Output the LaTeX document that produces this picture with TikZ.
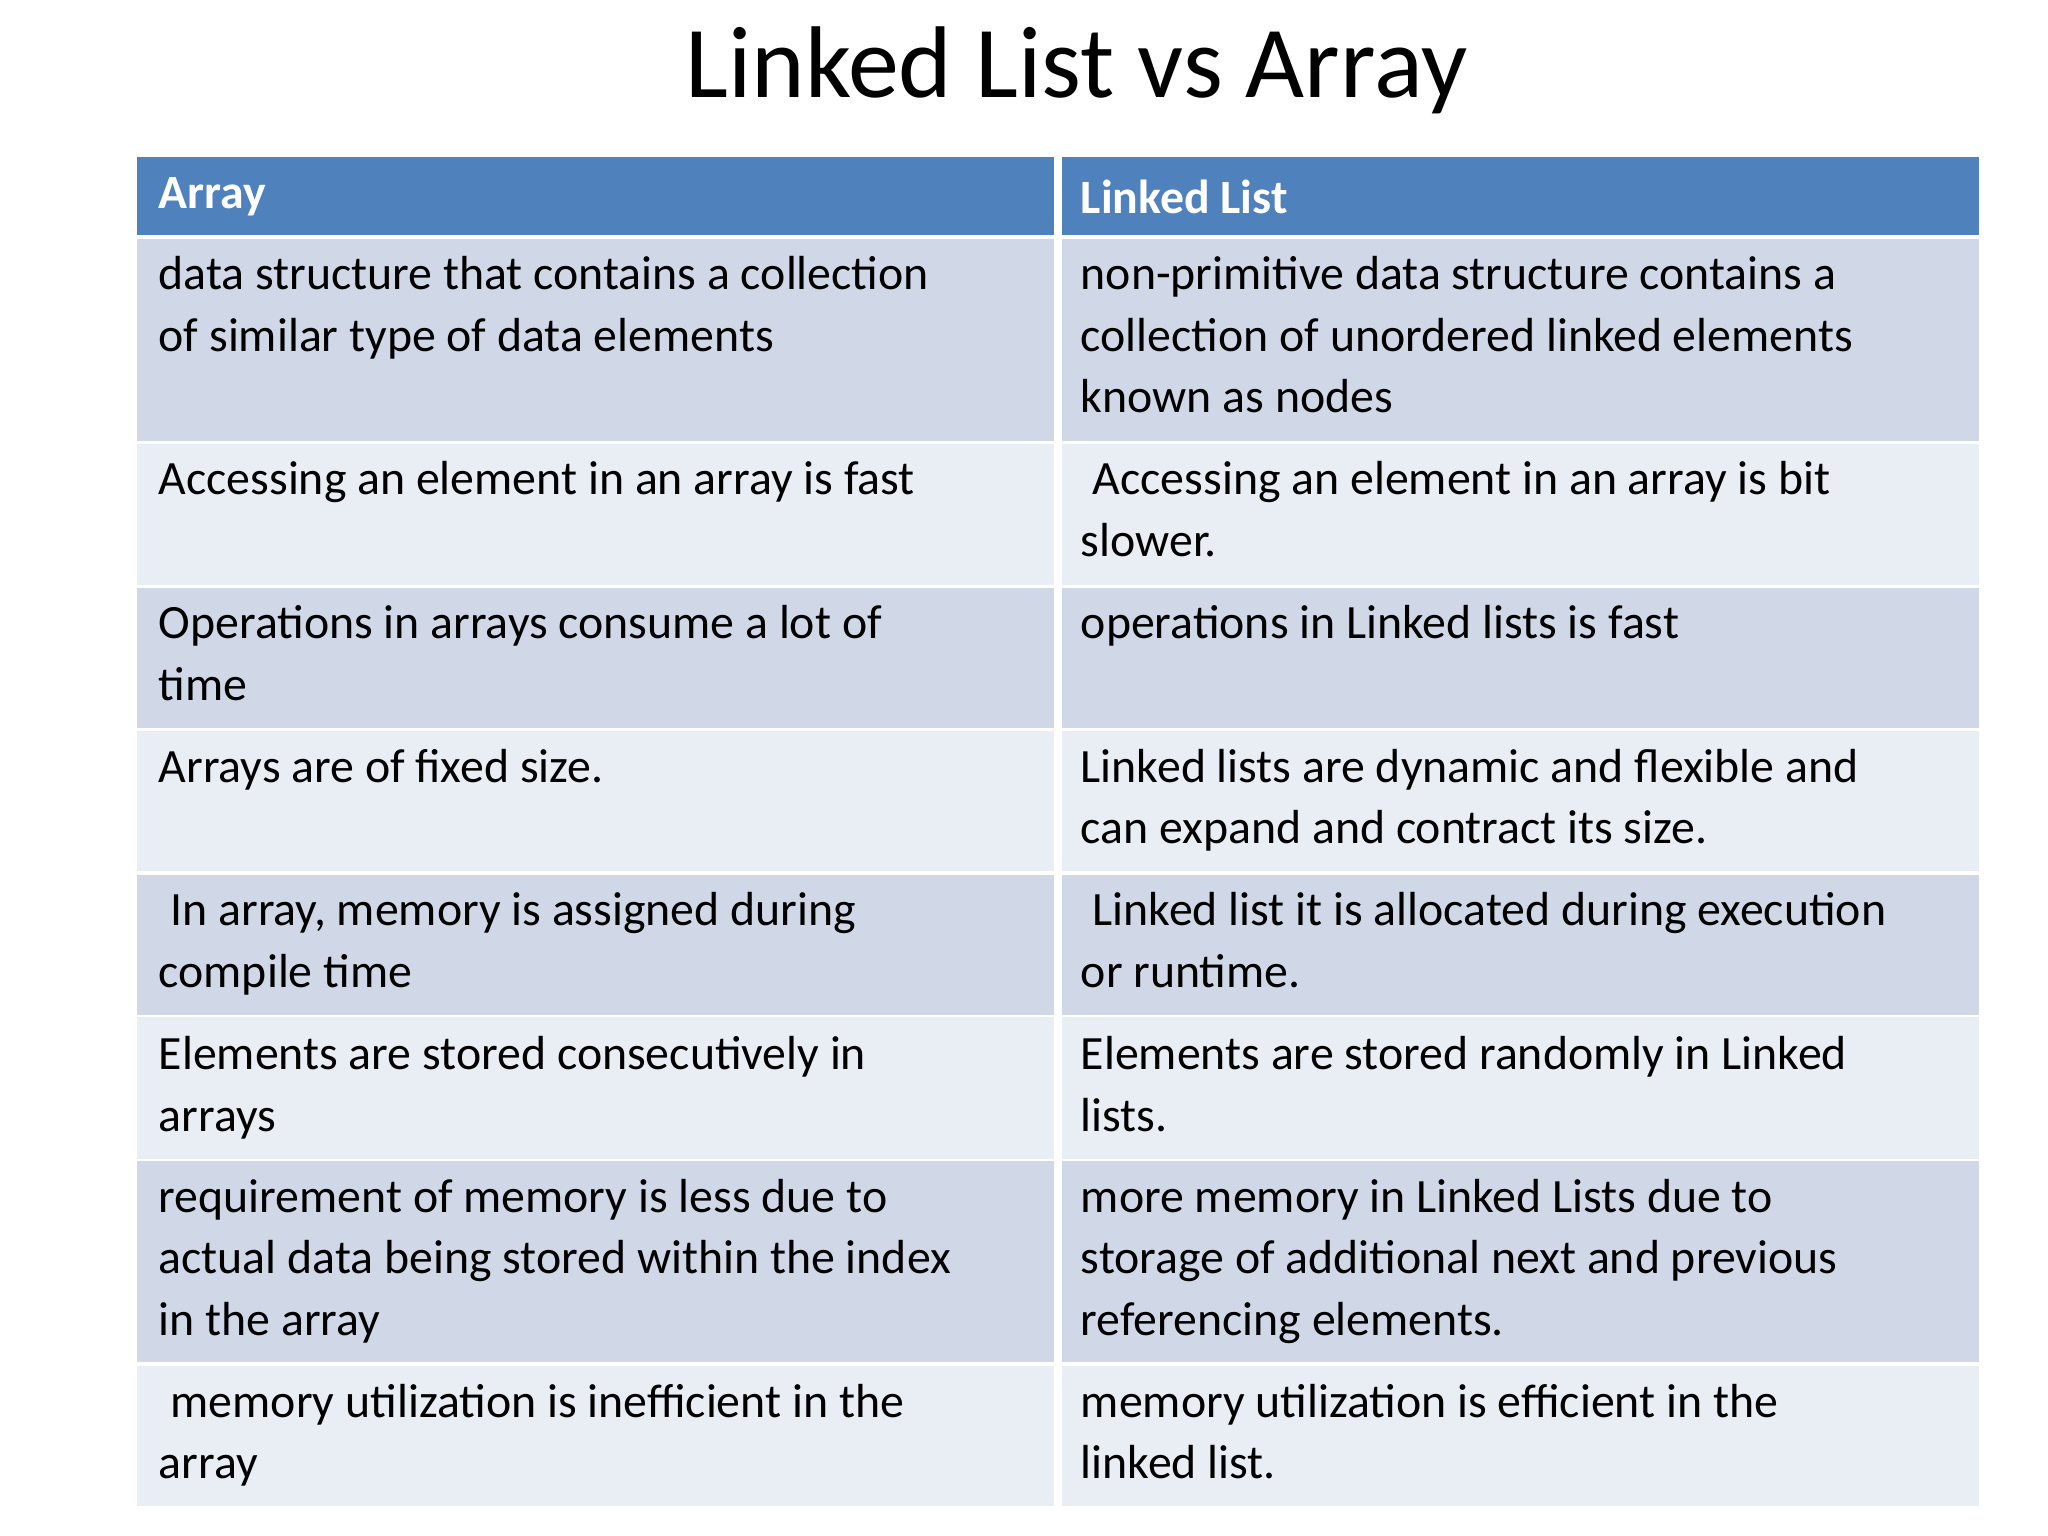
\documentclass[tikz,border=0pt]{standalone}
\usepackage{fontspec}
\setmainfont{Carlito}
\definecolor{hdr}{HTML}{4F81BD}
\definecolor{dk}{HTML}{D0D8E8}
\definecolor{lt}{HTML}{E9EDF4}
\newcommand{\bodyfont}{\fontsize{13.6pt}{17.5pt}\selectfont}
\begin{document}
\begin{tikzpicture}[x=0.01306cm,y=-0.01306cm,
 cell/.style={anchor=north west,inner sep=0,align=left,font=\bodyfont,text=black},
 head/.style={anchor=west,inner sep=0,font=\bodyfont\bfseries,text=white}]
\useasboundingbox[fill=white] (0,0) rectangle (1568,1176);
\node[font=\fontsize{29pt}{34pt}\selectfont] (title) at (824,54) {Linked List vs Array};
\fill[hdr] (105,120) rectangle (1515,180);
\foreach \t/\b/\c in {183/338/dk,340/448/lt,450/557/dk,560/667/lt,670/777/dk,779/887/lt,889/1043/dk,1046/1153/lt}
  \fill[\c] (105,\t) rectangle (1515,\b);
\draw[white,line width=2.5pt] (810,120) -- (810,1153);
\node[head] (h1) at (121,151) {Array};
\node[head] (h2) at (827,151) {Linked List};
\node[cell] (a1) at (121,196) {data structure that contains a collection\\of similar type of data elements};
\node[cell] (b1) at (827,196) {non-primitive data structure contains a\\collection of unordered linked elements\\known as nodes};
\node[cell] (a2) at (121,353) {Accessing an element in an array is fast};
\node[cell] (b2) at (827,353) {\hspace*{0.25em}Accessing an element in an array is bit\\slower.};
\node[cell] (a3) at (121,463) {Operations in arrays consume a lot of\\time};
\node[cell] (b3) at (827,463) {operations in Linked lists is fast};
\node[cell] (a4) at (121,573) {Arrays are of fixed size.};
\node[cell] (b4) at (827,573) {Linked lists are dynamic and flexible and\\can expand and contract its size.};
\node[cell] (a5) at (121,683) {\hspace*{0.25em}In array, memory is assigned during\\compile time};
\node[cell] (b5) at (827,683) {\hspace*{0.25em}Linked list it is allocated during execution\\or runtime.};
\node[cell] (a6) at (121,793) {Elements are stored consecutively in\\arrays};
\node[cell] (b6) at (827,793) {Elements are stored randomly in Linked\\lists.};
\node[cell] (a7) at (121,902) {requirement of memory is less due to\\actual data being stored within the index\\in the array};
\node[cell] (b7) at (827,902) {more memory in Linked Lists due to\\storage of additional next and previous\\referencing elements.};
\node[cell] (a8) at (121,1059) {\hspace*{0.25em}memory utilization is inefficient in the\\array};
\node[cell] (b8) at (827,1059) {memory utilization is efficient in the\\linked list.};
\end{tikzpicture}
\end{document}
